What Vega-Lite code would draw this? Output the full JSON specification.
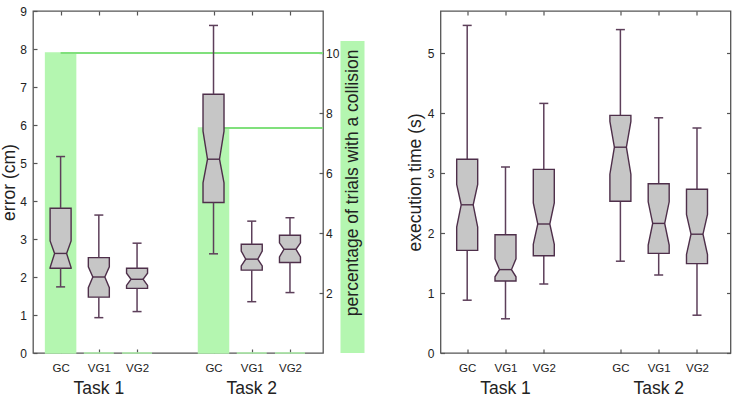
{
  "$schema": "https://vega.github.io/schema/vega-lite/v6.json",
  "padding": {"left": 0, "top": 4, "right": 0, "bottom": 0},
  "config": {
    "font": "Liberation Sans",
    "view": {"stroke": "#555555", "strokeWidth": 1.3},
    "axis": {
      "domain": false, "grid": false, "ticks": true, "tickColor": "#555555", "tickWidth": 1.2,
      "tickSize": -4, "labelFontSize": 12, "labelColor": "#222222", "labelOverlap": false,
      "titleFontSize": 17.5, "titleFontWeight": "normal", "titleColor": "#222222", "zindex": 1
    }
  },
  "datasets": {
    "collisions": [
      {"task": "Task 1", "cond": "GC", "pos": 1, "pct": 10},
      {"task": "Task 1", "cond": "VG1", "pos": 2, "pct": 0},
      {"task": "Task 1", "cond": "VG2", "pos": 3, "pct": 0},
      {"task": "Task 2", "cond": "GC", "pos": 5, "pct": 7.5},
      {"task": "Task 2", "cond": "VG1", "pos": 6, "pct": 0},
      {"task": "Task 2", "cond": "VG2", "pos": 7, "pct": 0}
    ],
    "error": [
      {"task": "Task 1", "cond": "GC", "pos": 1, "lo": 1.74, "q1": 2.23, "nlo": 2.25, "med": 2.62, "nhi": 2.95, "q3": 3.81, "hi": 5.17},
      {"task": "Task 1", "cond": "VG1", "pos": 2, "lo": 0.93, "q1": 1.47, "nlo": 1.72, "med": 2.0, "nhi": 2.27, "q3": 2.51, "hi": 3.63},
      {"task": "Task 1", "cond": "VG2", "pos": 3, "lo": 1.09, "q1": 1.7, "nlo": 1.78, "med": 1.94, "nhi": 2.1, "q3": 2.23, "hi": 2.89},
      {"task": "Task 2", "cond": "GC", "pos": 5, "lo": 2.61, "q1": 3.96, "nlo": 4.48, "med": 5.1, "nhi": 5.84, "q3": 6.81, "hi": 8.62},
      {"task": "Task 2", "cond": "VG1", "pos": 6, "lo": 1.35, "q1": 2.18, "nlo": 2.29, "med": 2.47, "nhi": 2.68, "q3": 2.86, "hi": 3.47},
      {"task": "Task 2", "cond": "VG2", "pos": 7, "lo": 1.59, "q1": 2.38, "nlo": 2.53, "med": 2.73, "nhi": 2.9, "q3": 3.1, "hi": 3.56}
    ],
    "time": [
      {"task": "Task 1", "cond": "GC", "pos": 1, "lo": 0.88, "q1": 1.71, "nlo": 2.1, "med": 2.47, "nhi": 2.81, "q3": 3.23, "hi": 5.46},
      {"task": "Task 1", "cond": "VG1", "pos": 2, "lo": 0.57, "q1": 1.2, "nlo": 1.27, "med": 1.39, "nhi": 1.57, "q3": 1.97, "hi": 3.1},
      {"task": "Task 1", "cond": "VG2", "pos": 3, "lo": 1.15, "q1": 1.62, "nlo": 1.81, "med": 2.15, "nhi": 2.5, "q3": 3.06, "hi": 4.16},
      {"task": "Task 2", "cond": "GC", "pos": 5, "lo": 1.53, "q1": 2.53, "nlo": 2.98, "med": 3.43, "nhi": 3.86, "q3": 3.96, "hi": 5.39},
      {"task": "Task 2", "cond": "VG1", "pos": 6, "lo": 1.3, "q1": 1.66, "nlo": 1.8, "med": 2.16, "nhi": 2.52, "q3": 2.82, "hi": 3.92},
      {"task": "Task 2", "cond": "VG2", "pos": 7, "lo": 0.63, "q1": 1.49, "nlo": 1.64, "med": 1.98, "nhi": 2.31, "q3": 2.73, "hi": 3.75}
    ],
    "tasks": [
      {"task": "Task 1", "pos": 2},
      {"task": "Task 2", "pos": 6}
    ]
  },
  "hconcat": [
    {
      "hconcat": [
        {
          "width": 290,
          "height": 342,
          "layer": [
            {
              "data": {"name": "collisions"},
              "layer": [
                {
                  "mark": {"type": "bar", "fill": "#b4f6b0", "stroke": "#b4f6b0", "strokeWidth": 1.5, "width": 30},
                  "encoding": {
                    "x": {
                      "field": "pos", "type": "quantitative",
                      "scale": {"domain": [0.278, 7.864], "nice": false, "padding": 0},
                      "axis": {"orient": "top", "labels": false, "title": null, "values": [1, 2, 3, 5, 6, 7]}
                    },
                    "y": {
                      "field": "pct", "type": "quantitative",
                      "scale": {"domain": [0, 11.4], "nice": false},
                      "axis": {"orient": "right", "values": [2, 4, 6, 8, 10], "labelOverlap": false, "labelPadding": 6.5, "title": null}
                    }
                  }
                },
                {
                  "transform": [{"filter": "datum.pct > 0"}],
                  "mark": {"type": "rule", "stroke": "#80e07c", "strokeWidth": 2},
                  "encoding": {
                    "x": {"field": "pos", "type": "quantitative"},
                    "x2": {"value": "width"},
                    "y": {"field": "pct", "type": "quantitative"}
                  }
                }
              ]
            },
            {
              "data": {"name": "error"},
              "layer": [
                {
                  "transform": [{"fold": ["q1", "nlo", "med", "nhi", "q3"], "as": ["stat", "v"]}],
                  "mark": {
                    "type": "area", "orient": "horizontal", "fill": "#c6c6c6", "stroke": "#4e2f4a", "strokeWidth": 1.4,
                    "xOffset": {"expr": "datum.stat == 'med' ? -6 : -10.5"},
                    "x2Offset": {"expr": "datum.stat == 'med' ? 6 : 10.5"}
                  },
                  "encoding": {
                    "x": {
                      "field": "pos", "type": "quantitative", "stack": null,
                      "scale": {"domain": [0.278, 7.864], "nice": false},
                      "axis": {"orient": "bottom", "title": null, "labelFontSize": 11.5, "labelPadding": 13, "values": [1, 2, 3, 5, 6, 7], "labelExpr": "datum.value % 4 == 1 ? 'GC' : datum.value % 4 == 2 ? 'VG1' : 'VG2'"}
                    },
                    "x2": {"field": "pos"},
                    "y": {
                      "field": "v", "type": "quantitative",
                      "scale": {"domain": [0, 9], "nice": false},
                      "axis": {"orient": "left", "values": [0, 1, 2, 3, 4, 5, 6, 7, 8, 9], "tickCount": 10, "format": "d", "labelOverlap": false, "labelPadding": 10.5, "title": "error (cm)", "titlePadding": 1}
                    },
                    "detail": {"field": "pos", "type": "nominal"}
                  }
                },
                {
                  "mark": {"type": "rule", "stroke": "#5d3f5a", "strokeWidth": 1.5},
                  "encoding": {"x": {"field": "pos", "type": "quantitative"}, "y": {"field": "lo", "type": "quantitative"}, "y2": {"field": "q1"}}
                },
                {
                  "mark": {"type": "rule", "stroke": "#5d3f5a", "strokeWidth": 1.5},
                  "encoding": {"x": {"field": "pos", "type": "quantitative"}, "y": {"field": "q3", "type": "quantitative"}, "y2": {"field": "hi"}}
                },
                {
                  "mark": {"type": "rule", "stroke": "#5d3f5a", "strokeWidth": 1.5, "xOffset": -4.5, "x2Offset": 4.5},
                  "encoding": {"x": {"field": "pos", "type": "quantitative"}, "x2": {"field": "pos"}, "y": {"field": "lo", "type": "quantitative"}}
                },
                {
                  "mark": {"type": "rule", "stroke": "#5d3f5a", "strokeWidth": 1.5, "xOffset": -4.5, "x2Offset": 4.5},
                  "encoding": {"x": {"field": "pos", "type": "quantitative"}, "x2": {"field": "pos"}, "y": {"field": "hi", "type": "quantitative"}}
                },
                {
                  "mark": {"type": "rule", "stroke": "#4e2f4a", "strokeWidth": 1.4, "xOffset": -6, "x2Offset": 6},
                  "encoding": {"x": {"field": "pos", "type": "quantitative"}, "x2": {"field": "pos"}, "y": {"field": "med", "type": "quantitative"}}
                },
                {
                  "data": {"name": "tasks"},
                  "mark": {"type": "text", "fontSize": 17.5, "dy": 36, "baseline": "middle", "color": "#222222"},
                  "encoding": {"x": {"field": "pos", "type": "quantitative"}, "y": {"datum": 0, "type": "quantitative"}, "text": {"field": "task"}}
                }
              ]
            }
          ],
          "resolve": {"scale": {"x": "independent", "y": "independent"}}
        },
        {
          "width": 24,
          "height": 342,
          "view": {"stroke": null},
          "data": {"values": [{"title": "percentage of trials with a collision"}]},
          "layer": [
            {
              "mark": {"type": "rect", "fill": "#b4f6b0"},
              "encoding": {
                "y": {"datum": 0, "type": "quantitative", "scale": {"domain": [0, 11.4], "nice": false}, "axis": null},
                "y2": {"datum": 10.4}
              }
            },
            {
              "mark": {"type": "text", "angle": 270, "fontSize": 17.5, "align": "center", "baseline": "middle", "color": "#222222"},
              "encoding": {"y": {"datum": 5.67, "type": "quantitative"}, "text": {"field": "title"}}
            }
          ]
        }
      ],
      "spacing": 0.5
    },
    {
      "width": 290,
      "height": 342,
      "data": {"name": "time"},
      "layer": [
        {
          "layer": [
            {
              "mark": {"type": "rule", "stroke": "#5d3f5a", "strokeWidth": 1.5},
              "encoding": {
                "x": {
                  "field": "pos", "type": "quantitative",
                  "scale": {"domain": [0.303, 7.875], "nice": false},
                  "axis": {"orient": "top", "labels": false, "title": null, "values": [1, 2, 3, 5, 6, 7]}
                },
                "y": {
                  "field": "lo", "type": "quantitative",
                  "scale": {"domain": [0, 5.7], "nice": false},
                  "axis": {"orient": "right", "labels": false, "values": [0, 1, 2, 3, 4, 5], "title": null}
                },
                "y2": {"field": "hi"}
              }
            },
            {
              "mark": {"type": "rule", "stroke": "#5d3f5a", "strokeWidth": 1.5, "xOffset": -4.5, "x2Offset": 4.5},
              "encoding": {"x": {"field": "pos", "type": "quantitative"}, "x2": {"field": "pos"}, "y": {"field": "lo", "type": "quantitative"}}
            },
            {
              "mark": {"type": "rule", "stroke": "#5d3f5a", "strokeWidth": 1.5, "xOffset": -4.5, "x2Offset": 4.5},
              "encoding": {"x": {"field": "pos", "type": "quantitative"}, "x2": {"field": "pos"}, "y": {"field": "hi", "type": "quantitative"}}
            }
          ]
        },
        {
          "layer": [
            {
              "transform": [{"fold": ["q1", "nlo", "med", "nhi", "q3"], "as": ["stat", "v"]}],
              "mark": {
                "type": "area", "orient": "horizontal", "fill": "#c6c6c6", "stroke": "#4e2f4a", "strokeWidth": 1.4,
                "xOffset": {"expr": "datum.stat == 'med' ? -6 : -10.5"},
                "x2Offset": {"expr": "datum.stat == 'med' ? 6 : 10.5"}
              },
              "encoding": {
                "x": {
                  "field": "pos", "type": "quantitative", "stack": null,
                  "scale": {"domain": [0.303, 7.875], "nice": false},
                  "axis": {"orient": "bottom", "title": null, "labelFontSize": 11.5, "labelPadding": 13, "values": [1, 2, 3, 5, 6, 7], "labelExpr": "datum.value % 4 == 1 ? 'GC' : datum.value % 4 == 2 ? 'VG1' : 'VG2'"}
                },
                "x2": {"field": "pos"},
                "y": {
                  "field": "v", "type": "quantitative",
                  "scale": {"domain": [0, 5.7], "nice": false},
                  "axis": {"orient": "left", "values": [0, 1, 2, 3, 4, 5], "format": "d", "labelOverlap": false, "labelPadding": 10.5, "title": "execution time (s)", "titlePadding": 2.5}
                },
                "detail": {"field": "pos", "type": "nominal"}
              }
            },
            {
              "mark": {"type": "rule", "stroke": "#4e2f4a", "strokeWidth": 1.4, "xOffset": -6, "x2Offset": 6},
              "encoding": {"x": {"field": "pos", "type": "quantitative"}, "x2": {"field": "pos"}, "y": {"field": "med", "type": "quantitative"}}
            },
            {
              "data": {"name": "tasks"},
              "mark": {"type": "text", "fontSize": 17.5, "dy": 36, "baseline": "middle", "color": "#222222"},
              "encoding": {"x": {"field": "pos", "type": "quantitative"}, "y": {"datum": 0, "type": "quantitative"}, "text": {"field": "task"}}
            }
          ]
        }
      ],
      "resolve": {"scale": {"x": "independent", "y": "independent"}}
    }
  ],
  "spacing": 40.5
}
